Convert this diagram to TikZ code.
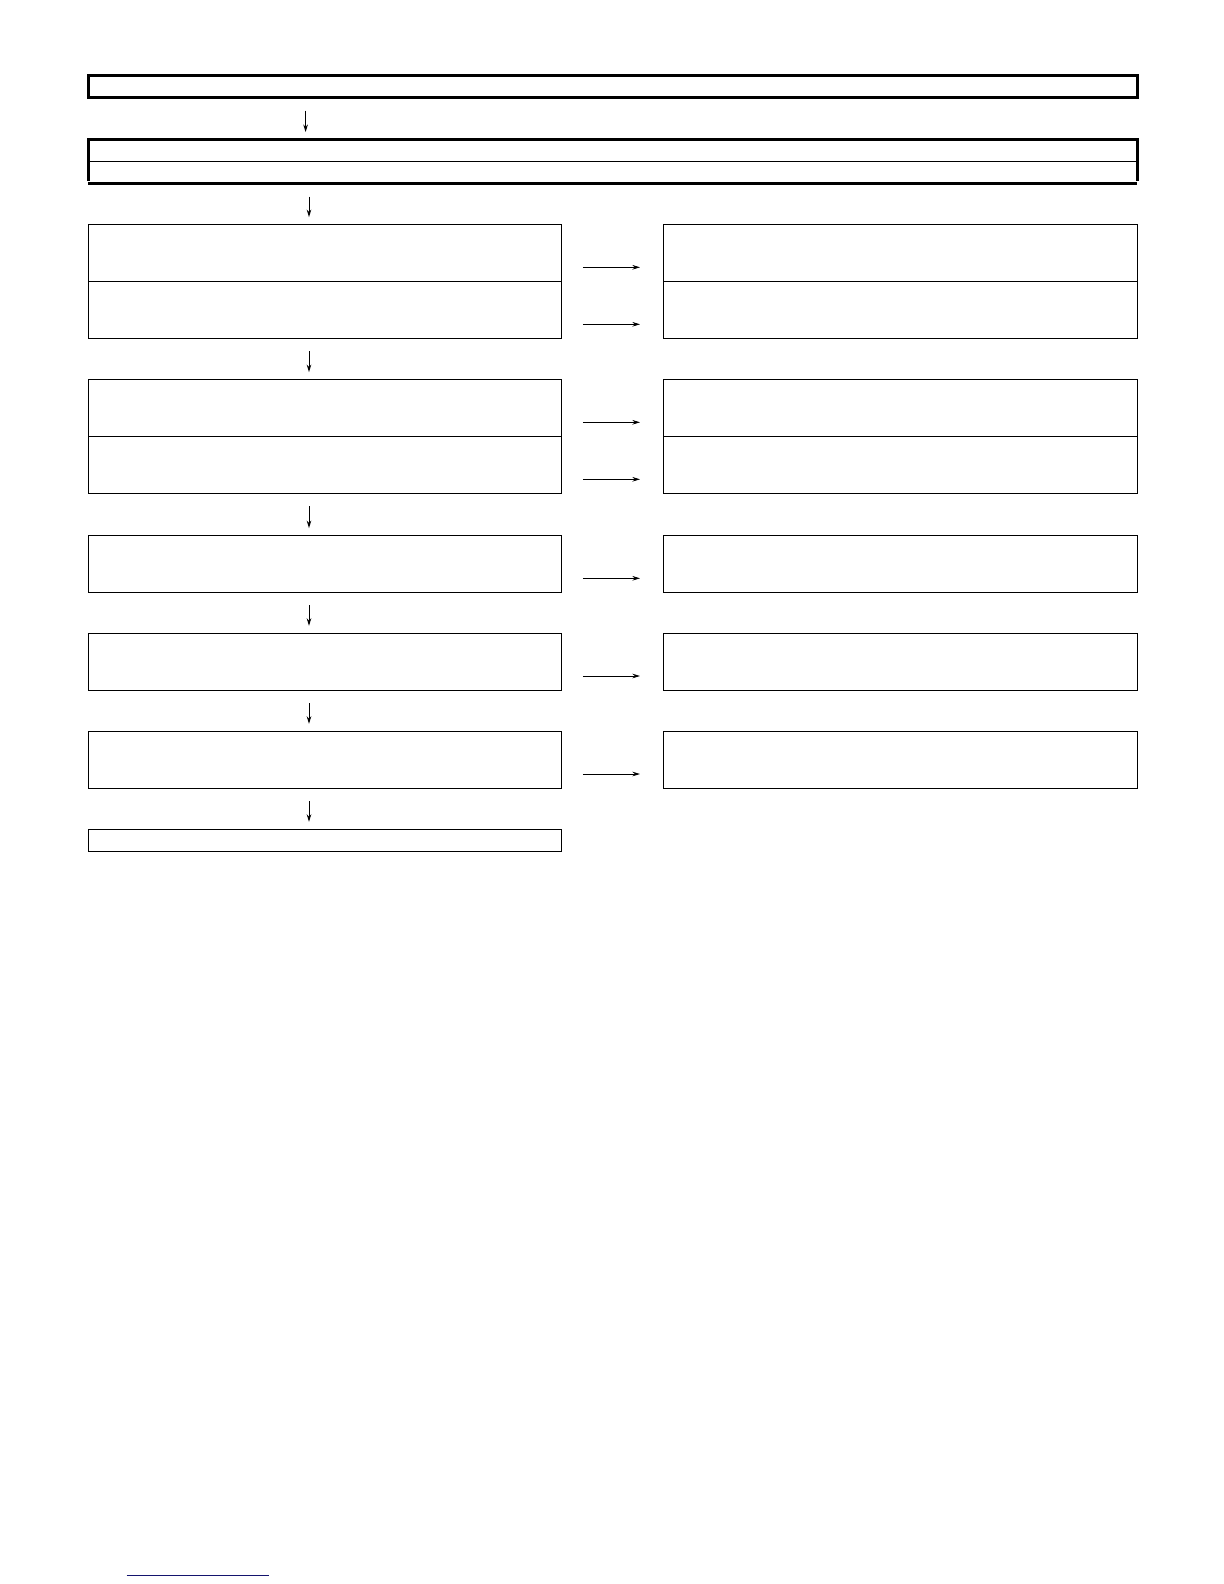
\documentclass[tikz,border=0pt]{standalone}
\usetikzlibrary{positioning,arrows.meta}

\tikzset{
  stepbox/.style={draw, line width=0.5bp, minimum width=236.4bp, minimum height=28.5bp, inner sep=0pt, outer sep=0pt},
  sidebox/.style={stepbox, minimum width=237bp},
  widebox/.style={inner sep=0pt, outer sep=0pt, minimum width=524.5bp},
  heavy/.style={line width=1.65bp},
  flow/.style={-{Stealth[length=3.8bp,width=2.3bp]}, line width=0.5bp, shorten <=6.5bp, shorten >=3.6bp},
  side/.style={-{Stealth[length=3.8bp,width=2.3bp]}, line width=0.5bp, shorten <=10.6bp, shorten >=11.5bp}
}

\begin{document}
\begin{tikzpicture}[x=0.5bp, y=-0.5bp]
\useasboundingbox (0,0) rectangle (1224,1584);
\coordinate (spine) at (309,0);

% heading boxes
\node[widebox, draw, heavy, minimum height=11bp] (head) at (612.7,86.7) {};
\node[widebox, minimum height=10.85bp] (sub1) at (612.7,150.15) {};
\node[widebox, minimum height=11.25bp] (sub2) at (612.7,172.25) {};
\draw[heavy] ([yshift=1.4bp]sub2.south west) -- (sub1.north west) -- (sub1.north east) -- ([yshift=1.4bp]sub2.south east);
\draw[heavy] (sub2.south west) -- (sub2.south east);
\draw[line width=0.5bp] (sub1.south west) -- (sub1.south east);

% left column
\node[stepbox] (la1) at (325.3,252.8) {};
\node[stepbox] (la2) at (325.3,309.8) {};
\node[stepbox] (lb1) at (325.3,407.8) {};
\node[stepbox] (lb2) at (325.3,464.8) {};
\node[stepbox] (lc) at (325.3,563.8) {};
\node[stepbox] (ld) at (325.3,661.5) {};
\node[stepbox] (le) at (325.3,759.5) {};
\node[stepbox, minimum height=11bp] (end) at (325.3,840) {};

% right column
\node[sidebox] (ra1) at (900,252.8) {};
\node[sidebox] (ra2) at (900,309.8) {};
\node[sidebox] (rb1) at (900,407.8) {};
\node[sidebox] (rb2) at (900,464.8) {};
\node[sidebox] (rc) at (900,563.8) {};
\node[sidebox] (rd) at (900,661.5) {};
\node[sidebox] (re) at (900,759.5) {};

% down arrows
\draw[flow] ([xshift=-1.7bp]head.south -| spine) -- ([xshift=-1.7bp]sub1.north -| spine);
\draw[flow] (sub2.south -| spine) -- (la1.north -| spine);
\draw[flow] (la2.south -| spine) -- (lb1.north -| spine);
\draw[flow] (lb2.south -| spine) -- (lc.north -| spine);
\draw[flow] (lc.south -| spine) -- (ld.north -| spine);
\draw[flow] (ld.south -| spine) -- (le.north -| spine);
\draw[flow] (le.south -| spine) -- (end.north -| spine);

% side arrows
\draw[side] ([yshift=-7.25bp]la1.east) -- ([yshift=-7.25bp]ra1.west);
\draw[side] ([yshift=-7.25bp]la2.east) -- ([yshift=-7.25bp]ra2.west);
\draw[side] ([yshift=-7.25bp]lb1.east) -- ([yshift=-7.25bp]rb1.west);
\draw[side] ([yshift=-7.25bp]lb2.east) -- ([yshift=-7.25bp]rb2.west);
\draw[side] ([yshift=-7.25bp]lc.east) -- ([yshift=-7.25bp]rc.west);
\draw[side] ([yshift=-7.25bp]ld.east) -- ([yshift=-7.25bp]rd.west);
\draw[side] ([yshift=-7.25bp]le.east) -- ([yshift=-7.25bp]re.west);

% rule at the foot
\draw[line width=0.75bp, color={rgb,255:red,20;green,20;blue,110}] (126.7,1575.3) -- (269,1575.3);
\end{tikzpicture}
\end{document}
